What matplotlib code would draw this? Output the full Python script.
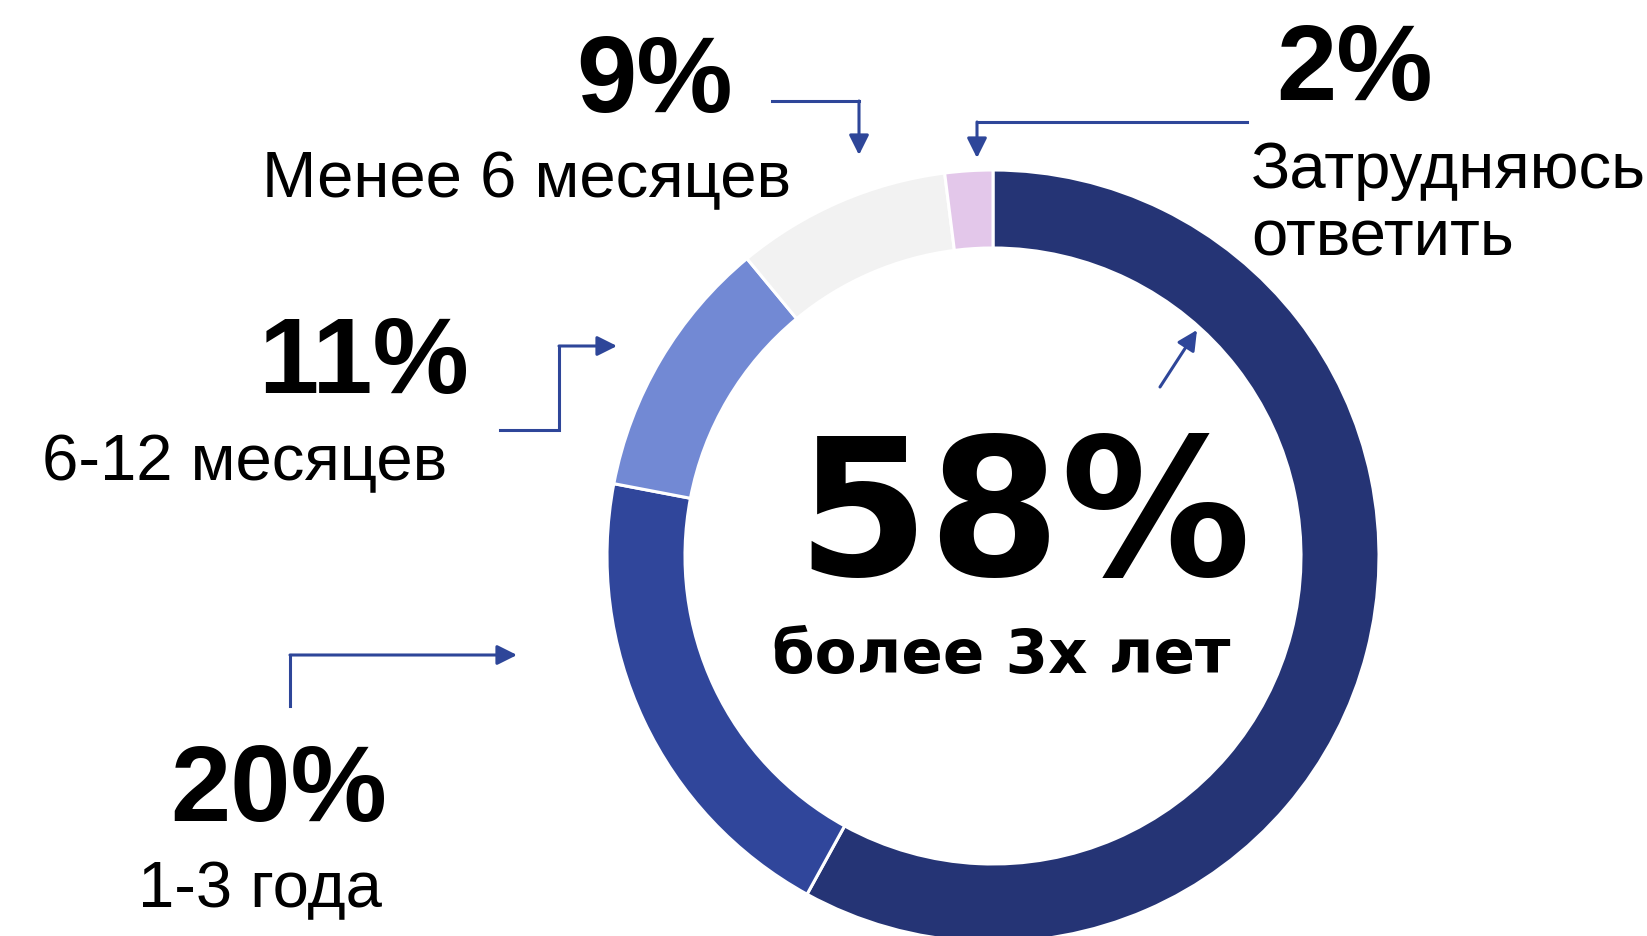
import matplotlib
matplotlib.use('Agg')
import matplotlib.pyplot as plt

# data
shares = [58, 20, 11, 9, 2]
pct_labels = ['58%', '20%', '11%', '9%', '2%']
cat_labels = ['более 3х лет', '1-3 года', '6-12 месяцев', 'Менее 6 месяцев',
              'Затрудняюсь\nответить']
colors = ['#253475', '#30469B', '#7289D4', '#F2F2F2', '#E3C7EA']

arrow_color = '#2E4699'

W, H = 1647, 937
fig = plt.figure(figsize=(W / 100, H / 100), dpi=100)
ax = fig.add_axes([0, 0, 1, 1])

# donut (pixel coords, y axis flipped -> counterclock in data = clockwise on screen)
cx, cy, R = 993, 557, 386
ax.pie(shares, colors=colors, startangle=-90, counterclock=True,
       center=(cx, cy), radius=R,
       wedgeprops=dict(width=78, edgecolor='white', linewidth=2.2))

ax.set_xlim(0, W)
ax.set_ylim(H, 0)
ax.set_aspect('equal')
ax.axis('off')

bold = dict(family='Liberation Sans', weight='bold', color='black')
reg = dict(family='Liberation Sans', color='black')
heavy = dict(family='DejaVu Sans', weight='bold', color='black')

# center label
ax.text(1024, 575, pct_labels[0], ha='center', va='baseline', fontsize=137, **heavy)
ax.text(1001, 673, cat_labels[0], ha='center', va='baseline', fontsize=44, **heavy)

# side labels: (pct x-center, pct baseline, cat x-left, cat baseline)
label_pos = {
    1: (279, 821, 138, 907),
    2: (364, 393, 42, 480),
    3: (655, 112, 262, 197),
}
for i, (px, py, tx, ty) in label_pos.items():
    ax.text(px, py, pct_labels[i], ha='center', va='baseline', fontsize=78, **bold)
    ax.text(tx, ty, cat_labels[i], ha='left', va='baseline', fontsize=47, **reg)

ax.text(1355, 100, pct_labels[4], ha='center', va='baseline', fontsize=78, **bold)
line1, line2 = cat_labels[4].split('\n')
ax.text(1251, 188, line1, ha='left', va='baseline', fontsize=47, **reg)
ax.text(1251, 255, line2, ha='left', va='baseline', fontsize=47, **reg)

# elbow arrows
paths = [
    [(772, 102), (859, 102), (859, 156)],
    [(1247, 123), (977, 123), (977, 159)],
    [(500, 431), (559, 431), (559, 347), (617, 347)],
    [(290, 707), (290, 656), (517, 656)],
    [(1160, 388), (1197, 331)],
]
for p in paths:
    xs = [q[0] for q in p[:-1]]
    ys = [q[1] for q in p[:-1]]
    if len(p) > 2:
        ax.plot(xs, ys, color=arrow_color, lw=2.2, solid_joinstyle='miter')
    ax.annotate('', xy=p[-1], xytext=p[-2],
                arrowprops=dict(arrowstyle='-|>,head_length=0.6,head_width=0.3',
                                mutation_scale=20, color=arrow_color, lw=2.2,
                                shrinkA=0, shrinkB=0))

fig.savefig('out.png', dpi=100)
